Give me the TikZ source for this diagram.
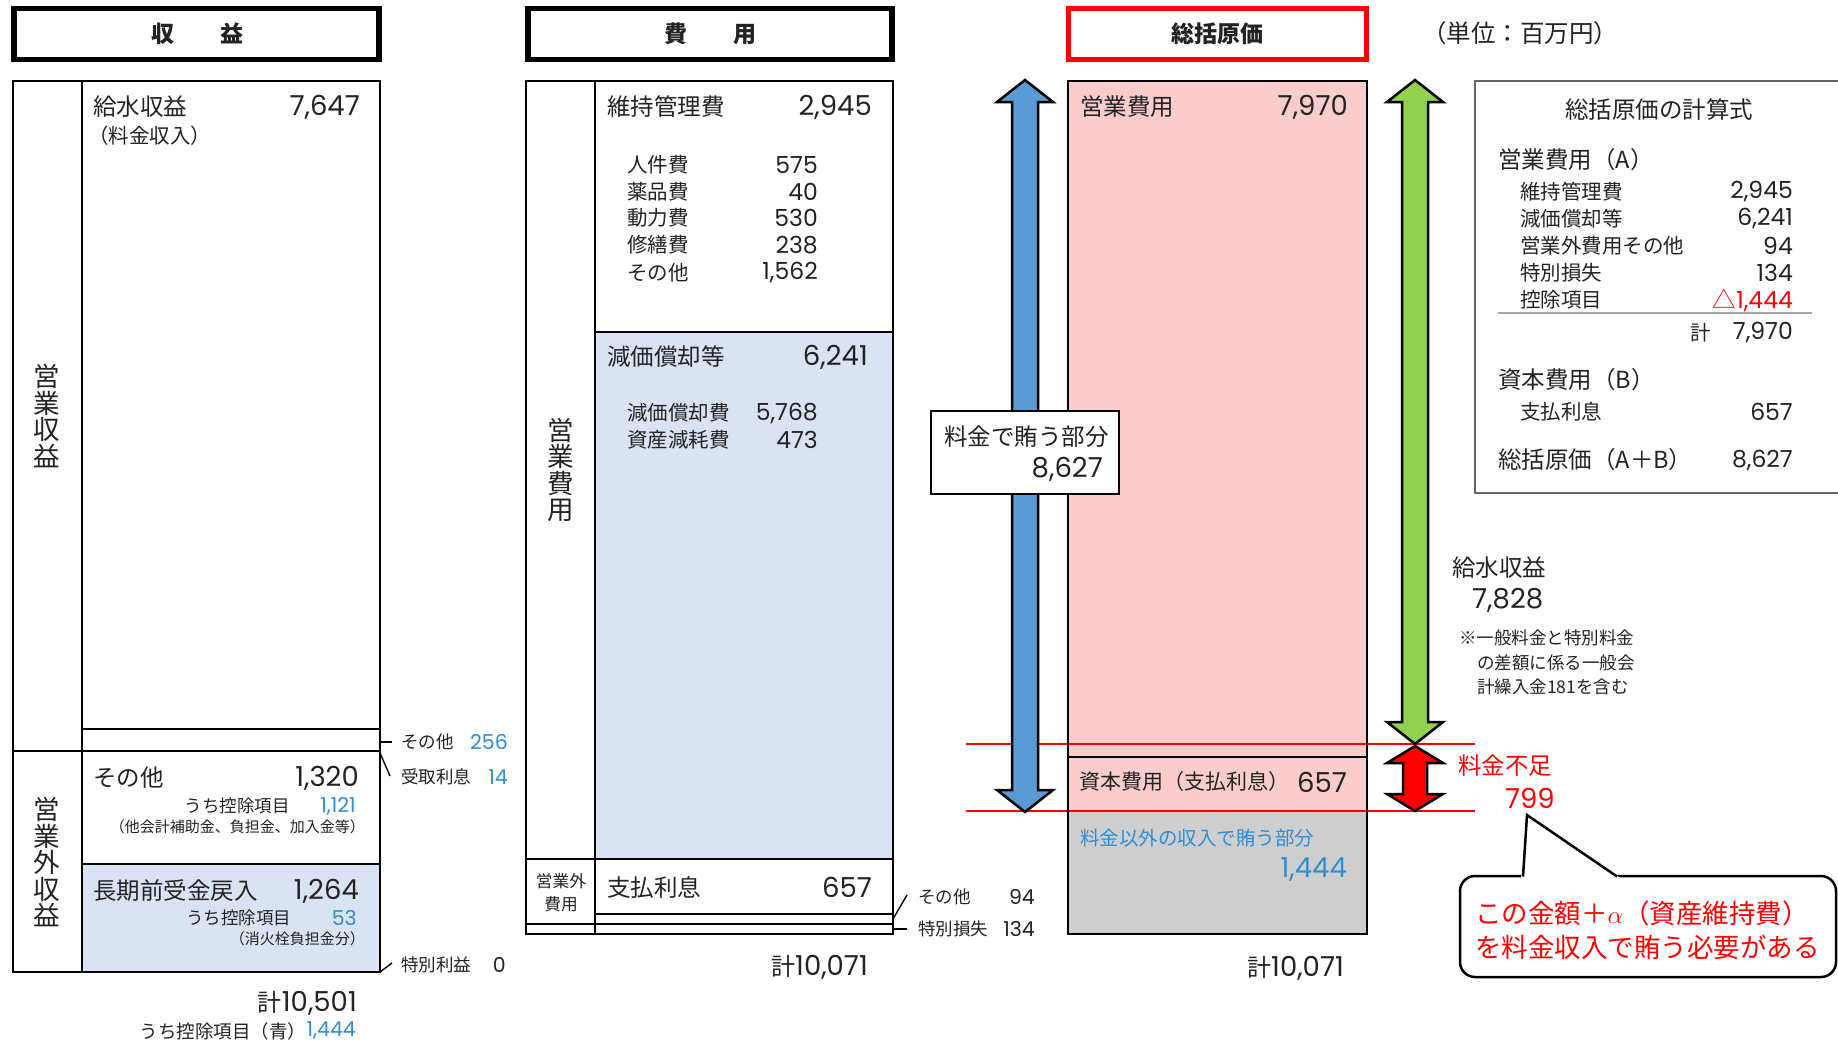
\documentclass[tikz,border=0pt]{standalone}
\usepackage{fontspec}
\newfontfamily\jp{Noto Sans CJK JP}
\newfontfamily\nf{Poppins}
\newcommand\fsMain{\jp\fontsize{23.5}{26.5}\selectfont}
\newcommand\fsNum{\nf\fontsize{27.5}{30}\selectfont}
\newcommand\fsSub{\jp\fontsize{20.5}{24}\selectfont}
\newcommand\fsSubNum{\nf\fontsize{23.5}{26}\selectfont}
\newcommand\fsSmall{\jp\fontsize{17.5}{21}\selectfont}
\newcommand\fsSmallNum{\nf\fontsize{20.5}{23}\selectfont}
\newcommand\fsNote{\jp\fontsize{15}{18}\selectfont}
\newcommand\fsHead{\jp\bfseries\fontsize{23}{28}\selectfont}
\newcommand\fsVert{\jp\fontsize{26.5}{26.5}\selectfont}
\newcommand\fsVsmall{\jp\fontsize{16.7}{23}\selectfont}
\newcommand\fsCall{\jp\fontsize{26.5}{30}\selectfont}
\newcommand\fsMid{\jp\fontsize{19.5}{23}\selectfont}
\newcommand\fsKei{\jp\fontsize{24}{26}\selectfont}
\definecolor{lblue}{RGB}{218,227,243}
\definecolor{pinkf}{RGB}{251,204,204}
\definecolor{grayf}{RGB}{206,206,206}
\definecolor{tblue}{RGB}{46,142,214}
\definecolor{arrblue}{RGB}{91,155,213}
\definecolor{arrgreen}{RGB}{146,208,80}
\definecolor{myred}{RGB}{255,0,0}
\definecolor{ink}{RGB}{35,35,35}
\begin{document}
\begin{tikzpicture}[x=1pt,y=-1pt,
  txt/.style={inner sep=0pt, text=ink},
  lw/.style={txt, anchor=west},
  le/.style={txt, anchor=east},
  hdr/.style={draw=black, line width=5.5pt},
  frame/.style={draw=black, line width=2.8pt},
  rule/.style={draw=black, line width=2.8pt},
  thinln/.style={draw=black, line width=1.4pt},
  redln/.style={draw=myred, line width=2.4pt},
  arr/.style={draw=black, line width=2.5pt, line join=miter}]
\useasboundingbox (0,0) rectangle (1838,1042);
\fill[white] (0,0) rectangle (1838,1042);

% ---------------- headers ----------------
\draw[hdr] (14,8.5) rectangle (379,59.5);
\node[txt, font=\fsHead] (h1) at (197,34) {収　　益};
\draw[hdr] (528,8.5) rectangle (892,59.5);
\node[txt, font=\fsHead] (h2) at (710,34) {費　　用};
\draw[draw=myred, line width=5.5pt] (1068.5,8.5) rectangle (1366.5,59.5);
\node[txt, font=\fsHead] (h3) at (1217,34) {総括原価};
\node[lw, font=\jp\fontsize{24.5}{26}\selectfont] (unit) at (1422,33) {（単位：百万円）};

% ---------------- left column (収益) ----------------
\fill[lblue] (82,864) rectangle (380,972);
\draw[frame] (13,81) rectangle (380,972);
\draw[rule] (82,81) -- (82,972);
\draw[thinln, line width=2pt] (82,729) -- (380,729);
\draw[rule] (13,751) -- (380,751);
\draw[rule] (82,864) -- (380,864);

\node[txt, font=\fsVert, align=center] (v1) at (47,416) {営\\業\\収\\益};
\node[txt, font=\fsVert, align=center] (v2) at (47,862) {営\\業\\外\\収\\益};

\node[lw, font=\fsMain] (kyusui) at (93,107) {給水収益};
\node[le, font=\fsNum] (n7647) at (360,107) {7,647};
\node[lw, font=\jp\fontsize{20.5}{24}\selectfont] (ryokin) at (88,136) {（料金収入）};

\node[lw, font=\fsMain] (sonota1) at (93,778) {その他};
\node[le, font=\fsNum] (n1320) at (359,778) {1,320};
\node[le, font=\fsSmall] (uchi1) at (290,806) {うち控除項目};
\node[le, font=\fsSmallNum, text=tblue] (n1121) at (356,806) {1,121};
\node[le, font=\fsNote] (note1) at (365,827) {（他会計補助金、負担金、加入金等）};

\node[lw, font=\fsMain] (choki) at (93,891) {長期前受金戻入};
\node[le, font=\fsNum] (n1264) at (359,891) {1,264};
\node[lw, font=\fsSmall] (uchi2) at (186,918) {うち控除項目};
\node[le, font=\fsSmallNum, text=tblue] (n53) at (357,918) {53};
\node[le, font=\fsNote] (note2) at (365,939) {（消火栓負担金分）};

% outside labels left
\coordinate (c256a) at (381,742);
\coordinate (c256b) at (392,742);
\draw[thinln] (c256a) -- (c256b);
\node[lw, font=\fsSmall] (sonota256) at (401,742) {その他};
\node[le, font=\fsSmallNum, text=tblue] (n256) at (508,742) {256};
\coordinate (c14a) at (380,753);
\coordinate (c14b) at (390,776);
\draw[thinln] (c14a) -- (c14b);
\node[lw, font=\fsSmall] (uketori) at (401,777) {受取利息};
\node[le, font=\fsSmallNum, text=tblue] (n14) at (508,777) {14};
\coordinate (c0a) at (380,972);
\coordinate (c0b) at (392,963);
\draw[thinln] (c0a) -- (c0b);
\node[lw, font=\fsSmall] (tokuri) at (401,965) {特別利益};
\node[le, font=\fsSmallNum] (n0) at (506,965) {0};

\node[le, font=\fsNum] (tot1) at (357,1003) {{\fsKei 計}10,501};
\node[le, font=\fsSmallNum, text=tblue] (n1444a) at (356,1031) {1,444};
\node[le, font=\jp\fontsize{18.5}{22}\selectfont] (uchi3) at (n1444a.west) {うち控除項目（青）};

% ---------------- middle column (費用) ----------------
\fill[lblue] (595,332) rectangle (893,859);
\draw[frame] (526,81) rectangle (893,934);
\draw[rule] (595,81) -- (595,934);
\draw[rule] (595,332) -- (893,332);
\draw[rule] (526,859) -- (893,859);
\draw[rule] (595,914) -- (893,914);
\draw[rule] (526,924) -- (893,924);

\node[txt, font=\fsVert, align=center] (v3) at (561,470) {営\\業\\費\\用};
\node[txt, font=\fsVsmall, align=center] (v4) at (561,893) {営業外\\費用};

\node[lw, font=\fsMain] (iji) at (607,107) {維持管理費};
\node[le, font=\fsNum] (n2945) at (872,107) {2,945};
\node[lw, font=\fsSub] (i1) at (627,165) {人件費};
\node[le, font=\fsSubNum] (m1) at (818,165) {575};
\node[lw, font=\fsSub] (i2) at (627,192) {薬品費};
\node[le, font=\fsSubNum] (m2) at (818,192) {40};
\node[lw, font=\fsSub] (i3) at (627,218) {動力費};
\node[le, font=\fsSubNum] (m3) at (818,218) {530};
\node[lw, font=\fsSub] (i4) at (627,245) {修繕費};
\node[le, font=\fsSubNum] (m4) at (818,245) {238};
\node[lw, font=\fsSub] (i5) at (627,273) {その他};
\node[le, font=\fsSubNum] (m5) at (818,273) {1,562};

\node[lw, font=\fsMain] (genka) at (607,357) {減価償却等};
\node[le, font=\fsNum] (n6241) at (868,357) {6,241};
\node[lw, font=\fsSub] (g1) at (627,413) {減価償却費};
\node[le, font=\fsSubNum] (gm1) at (818,413) {5,768};
\node[lw, font=\fsSub] (g2) at (627,440) {資産減耗費};
\node[le, font=\fsSubNum] (gm2) at (818,440) {473};

\node[lw, font=\fsMain] (shiharai) at (607,887) {支払利息};
\node[le, font=\fsNum] (n657a) at (872,887) {657};

\coordinate (c94a) at (893,919);
\coordinate (c94b) at (907,895);
\draw[thinln] (c94a) -- (c94b);
\node[lw, font=\fsSmall] (sonota94) at (918,897) {その他};
\node[le, font=\fsSmallNum] (n94) at (1035,897) {94};
\coordinate (c134a) at (894,929);
\coordinate (c134b) at (907,929);
\draw[thinln] (c134a) -- (c134b);
\node[lw, font=\fsSmall] (tokuson) at (918,929) {特別損失};
\node[le, font=\fsSmallNum] (n134) at (1035,929) {134};

\node[le, font=\fsNum] (tot2) at (868,967) {{\fsKei 計}10,071};

% ---------------- right column (総括原価) ----------------
\fill[pinkf] (1068,81) rectangle (1367,812);
\fill[grayf] (1068,812) rectangle (1367,934);
\draw[rule] (1068,757) -- (1367,757);
\draw[redln] (966,744) -- (1475,744);
\draw[redln] (966,811) -- (1475,811);
\draw[frame] (1068,81) rectangle (1367,934);

\node[lw, font=\fsMain] (eigyo) at (1080,107) {営業費用};
\node[le, font=\fsNum] (n7970) at (1348,107) {7,970};
\node[lw, font=\jp\fontsize{21}{24}\selectfont] (shihon) at (1079,782) {資本費用（支払利息）};
\node[le, font=\fsNum] (n657b) at (1347,782) {657};
\node[lw, font=\fsMid, text=tblue] (igai) at (1080,838) {料金以外の収入で賄う部分};
\node[le, font=\fsNum, text=tblue] (n1444b) at (1347,870) {1,444};
\node[le, font=\fsNum] (tot3) at (1344,968) {{\fsKei 計}10,071};

% arrows
\draw[arr, fill=arrblue] (1025,80) -- (1053,102) -- (1038,102) -- (1038,790) -- (1053,790) -- (1025,812) -- (997,790) -- (1012,790) -- (1012,102) -- (997,102) -- cycle;
\draw[arr, fill=arrgreen] (1415,80) -- (1443,102) -- (1428,102) -- (1428,722) -- (1443,722) -- (1415,744) -- (1387,722) -- (1402,722) -- (1402,102) -- (1387,102) -- cycle;
\draw[arr, fill=myred] (1415,746) -- (1443,763) -- (1427,763) -- (1427,794) -- (1443,794) -- (1415,811) -- (1387,794) -- (1403,794) -- (1403,763) -- (1387,763) -- cycle;

% box on blue arrow
\draw[draw=black, line width=2pt, fill=white] (931,411) rectangle (1119,494);
\node[lw, font=\fsMain] (ryokinbu) at (944,437) {料金で賄う部分};
\node[le, font=\fsNum] (n8627a) at (1103,469) {8,627};

% right-side labels
\node[lw, font=\fsMain] (kyusui2) at (1452,568) {給水収益};
\node[lw, font=\fsNum] (n7828) at (1472,600) {7,828};
\node[lw, font=\fsSmall] (nt1) at (1459,638) {※一般料金と特別料金};
\node[lw, font=\fsSmall] (nt2) at (1477,663) {の差額に係る一般会};
\node[lw, font=\fsSmall] (nt3) at (1477,687) {計繰入金181を含む};

\node[lw, font=\fsMain, text=myred] (fusoku) at (1458,766) {料金不足};
\node[le, font=\fsNum, text=myred] (n799) at (1555,798) {799};

% callout
\draw[draw=black, line width=2.5pt, fill=white, rounded corners=15pt] (1460,876) rectangle (1836,977);
\fill[white] (1521,878.5) -- (1527,816) -- (1621,878.5) -- cycle;
\coordinate (cp1) at (1523,876.5);
\coordinate (cptip) at (1527,815);
\coordinate (cp2) at (1617,876.5);
\draw[draw=black, line width=2.5pt, line join=miter] (cp1) -- (cptip) -- (cp2);
\node[lw, font=\fsCall, text=myred] (call1) at (1475,913) {この金額＋$\alpha$（資産維持費）};
\node[lw, font=\fsCall, text=myred] (call2) at (1475,947) {を料金収入で賄う必要がある};

% formula box
\draw[draw=black!60, line width=1.8pt] (1845,81) -- (1475,81) -- (1475,493) -- (1845,493);
\node[txt, font=\fsMain] (ftitle) at (1659,110) {総括原価の計算式};
\node[lw, font=\fsMain] (fA) at (1498,160) {営業費用（A）};
\node[lw, font=\fsSub] (f1) at (1520,192) {維持管理費};
\node[le, font=\fsSubNum] (fn1) at (1793,192) {2,945};
\node[lw, font=\fsSub] (f2) at (1520,219) {減価償却等};
\node[le, font=\fsSubNum] (fn2) at (1793,219) {6,241};
\node[lw, font=\fsSub] (f3) at (1520,246) {営業外費用その他};
\node[le, font=\fsSubNum] (fn3) at (1793,246) {94};
\node[lw, font=\fsSub] (f4) at (1520,273) {特別損失};
\node[le, font=\fsSubNum] (fn4) at (1793,273) {134};
\node[lw, font=\fsSub] (f5) at (1520,300) {控除項目};
\node[le, font=\fsSubNum, text=myred] (fn5) at (1793,300) {{\jp △}1,444};
\draw[draw=black!35, line width=1.2pt] (1498,313) -- (1812,313);
\node[lw, font=\fsSub] (fk) at (1690,333) {計};
\node[le, font=\fsSubNum] (fn6) at (1793,333) {7,970};
\node[lw, font=\fsMain] (fB) at (1498,380) {資本費用（B）};
\node[lw, font=\fsSub] (f6) at (1520,412) {支払利息};
\node[le, font=\fsSubNum] (fn7) at (1793,412) {657};
\node[lw, font=\fsMain] (fAB) at (1498,460) {総括原価（A＋B）};
\node[le, font=\fsSubNum] (fn8) at (1793,460) {8,627};
\end{tikzpicture}
\end{document}
